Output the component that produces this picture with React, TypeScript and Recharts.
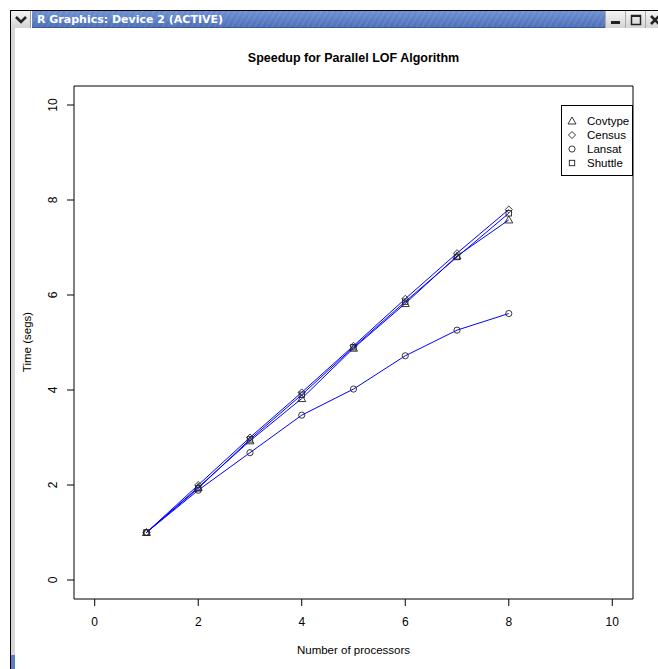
import React from "react";
import { LineChart, Line, XAxis, YAxis, ReferenceArea } from "recharts";

const processors = [1, 2, 3, 4, 5, 6, 7, 8];
const covtype = [1, 1.95, 2.93, 3.82, 4.88, 5.82, 6.82, 7.58];
const census = [1, 2.0, 3.0, 3.95, 4.93, 5.92, 6.88, 7.8];
const lansat = [1, 1.89, 2.68, 3.47, 4.02, 4.72, 5.26, 5.61];
const shuttle = [1, 1.93, 2.96, 3.9, 4.9, 5.86, 6.8, 7.72];
const xTicks = [0, 2, 4, 6, 8, 10];
const yTicks = [0, 2, 4, 6, 8, 10];
const seriesNames = ["Covtype", "Census", "Lansat", "Shuttle"];

const data = processors.map((p, i) => ({
  p,
  Covtype: covtype[i],
  Census: census[i],
  Lansat: lansat[i],
  Shuttle: shuttle[i],
}));

const FONT = "'Liberation Sans', Arial, Helvetica, sans-serif";

type ShapeKind = "triangle" | "diamond" | "circle" | "square";
const shapeOf: Record<string, ShapeKind> = {
  Covtype: "triangle",
  Census: "diamond",
  Lansat: "circle",
  Shuttle: "square",
};

function Marker({ kind, cx, cy }: { kind: ShapeKind; cx: number; cy: number }) {
  const common = { fill: "none", stroke: "#222", strokeWidth: 0.9 };
  if (kind === "triangle") {
    const s = 4;
    return <path d={`M${cx},${cy - s} L${cx + s},${cy + s * 0.75} L${cx - s},${cy + s * 0.75} Z`} {...common} />;
  }
  if (kind === "diamond") {
    const s = 3.5;
    return <path d={`M${cx},${cy - s} L${cx + s},${cy} L${cx},${cy + s} L${cx - s},${cy} Z`} {...common} />;
  }
  if (kind === "circle") {
    return <circle cx={cx} cy={cy} r={3.1} {...common} />;
  }
  const s = 2.7;
  return <rect x={cx - s} y={cy - s} width={2 * s} height={2 * s} {...common} />;
}

const makeDot = (name: string) => (props: any) => {
  const { cx, cy, index } = props;
  if (cx == null || cy == null) return <g key={`${name}-${index}`} />;
  return (
    <g key={`${name}-${index}`}>
      <Marker kind={shapeOf[name]} cx={cx} cy={cy} />
    </g>
  );
};

const YTick = (props: any) => {
  const { y, payload } = props;
  return (
    <text
      transform={`translate(57,${y}) rotate(-90)`}
      textAnchor="middle"
      fontSize={12}
      fontFamily={FONT}
      fill="#000"
    >
      {payload.value}
    </text>
  );
};

const XTick = (props: any) => {
  const { x, payload } = props;
  return (
    <text x={x} y={626} textAnchor="middle" fontSize={12} fontFamily={FONT} fill="#000">
      {payload.value}
    </text>
  );
};

function WindowChrome() {
  return (
    <>
      <div style={{ position: "absolute", left: 10, top: 10, width: 648, height: 1, background: "#000" }} />
      <div style={{ position: "absolute", left: 10, top: 10, width: 1, height: 659, background: "#000" }} />
      <div style={{ position: "absolute", left: 11, top: 28, width: 4, height: 627, background: "#d6d6d6" }} />
      <div style={{ position: "absolute", left: 11, top: 655, width: 4, height: 14, background: "#5a7cc0" }} />
      <div
        style={{
          position: "absolute",
          left: 11,
          top: 11,
          width: 20,
          height: 17,
          background: "linear-gradient(#f4f4f4, #d4d4d4)",
          borderRight: "1px solid #999",
          boxSizing: "border-box",
        }}
      >
        <svg width={20} height={17} style={{ display: "block" }}>
          <path d="M5,6 L10,11 L15,6" fill="none" stroke="#222" strokeWidth={2.5} />
        </svg>
      </div>
      <div
        style={{
          position: "absolute",
          left: 32,
          top: 11,
          width: 573,
          height: 17,
          background:
            "repeating-linear-gradient(120deg, rgba(255,255,255,0.08) 0px, rgba(255,255,255,0.08) 2px, rgba(0,0,0,0) 2px, rgba(0,0,0,0) 5px), linear-gradient(#6d8fd2, #4d6fb8)",
          borderBottom: "1px solid #3b5a9a",
          boxSizing: "border-box",
        }}
      >
        <span
          style={{
            position: "absolute",
            left: 5,
            top: 1,
            color: "#fff",
            fontFamily: "'DejaVu Sans', sans-serif",
            fontWeight: "bold",
            fontSize: 11,
            lineHeight: "15px",
            whiteSpace: "nowrap",
          }}
        >
          R Graphics: Device 2 (ACTIVE)
        </span>
      </div>
      {[605, 625, 645].map((lx, i) => (
        <div
          key={lx}
          style={{
            position: "absolute",
            left: lx,
            top: 11,
            width: 20,
            height: 17,
            background: "linear-gradient(#f4f4f4, #d4d4d4)",
            borderLeft: "1px solid #aaa",
            boxSizing: "border-box",
          }}
        >
          <svg width={20} height={17} style={{ display: "block" }}>
            {i === 0 && <rect x={5} y={10} width={9} height={3} fill="#222" />}
            {i === 1 && <rect x={5.5} y={4.5} width={9} height={9} fill="none" stroke="#222" strokeWidth={1.5} />}
            {i === 1 && <rect x={5} y={4} width={10} height={2} fill="#222" />}
            {i === 2 && <path d="M5,5 L13,13 M13,5 L5,13" stroke="#222" strokeWidth={2.5} />}
          </svg>
        </div>
      ))}
    </>
  );
}

function LegendBox() {
  return (
    <div
      style={{
        position: "absolute",
        left: 561,
        top: 105,
        width: 72,
        height: 71,
        border: "1px solid #000",
        boxSizing: "border-box",
        background: "#fff",
      }}
    >
      <svg width={70} height={69} style={{ display: "block" }}>
        {seriesNames.map((name, i) => {
          const cy = 15 + i * 14;
          return (
            <g key={name}>
              <Marker kind={shapeOf[name]} cx={10} cy={cy} />
              <text x={25} y={cy + 4} fontSize={11.5} fontFamily={FONT} fill="#000">
                {name}
              </text>
            </g>
          );
        })}
      </svg>
    </div>
  );
}

export default function App() {
  return (
    <div
      style={{
        position: "absolute",
        left: 0,
        top: 0,
        width: 658,
        height: 669,
        background: "#fff",
        overflow: "hidden",
        fontFamily: FONT,
      }}
    >
      <WindowChrome />
      <div
        style={{
          position: "absolute",
          left: 0,
          top: 51,
          width: 658,
          textAlign: "center",
          paddingLeft: 49,
          boxSizing: "border-box",
          fontWeight: "bold",
          fontSize: 12.5,
          fontFamily: FONT,
          color: "#000",
        }}
      >
        Speedup for Parallel LOF Algorithm
      </div>
      <div style={{ position: "absolute", left: 0, top: 0 }}>
        <LineChart width={658} height={669} data={data} margin={{ top: 86, right: 25, bottom: 30, left: 14 }}>
          <XAxis
            dataKey="p"
            type="number"
            domain={[-0.4, 10.4]}
            ticks={xTicks}
            allowDataOverflow
            axisLine={false}
            tickLine={{ stroke: "#000" }}
            tickSize={7}
            height={40}
            tick={<XTick />}
            interval={0}
          />
          <YAxis
            type="number"
            domain={[-0.4, 10.4]}
            ticks={yTicks}
            allowDataOverflow
            axisLine={false}
            tickLine={{ stroke: "#000" }}
            tickSize={7}
            width={60}
            tick={<YTick />}
            interval={0}
          />
          <ReferenceArea x1={-0.4} x2={10.4} y1={-0.4} y2={10.4} fill="none" stroke="#000" strokeWidth={1} ifOverflow="visible" />
          {seriesNames.map((name) => (
            <Line
              key={name}
              dataKey={name}
              type="linear"
              stroke="#0000ff"
              strokeWidth={1}
              dot={makeDot(name)}
              activeDot={false}
              isAnimationActive={false}
            />
          ))}
        </LineChart>
      </div>
      <LegendBox />
      <div
        style={{
          position: "absolute",
          left: 74,
          width: 559,
          top: 644,
          textAlign: "center",
          fontSize: 11.5,
          fontFamily: FONT,
          color: "#000",
        }}
      >
        Number of processors
      </div>
      <div
        style={{
          position: "absolute",
          left: 27,
          top: 342,
          transform: "translate(-50%, -50%) rotate(-90deg)",
          fontSize: 11.5,
          fontFamily: FONT,
          color: "#000",
          whiteSpace: "nowrap",
        }}
      >
        Time (segs)
      </div>
    </div>
  );
}
